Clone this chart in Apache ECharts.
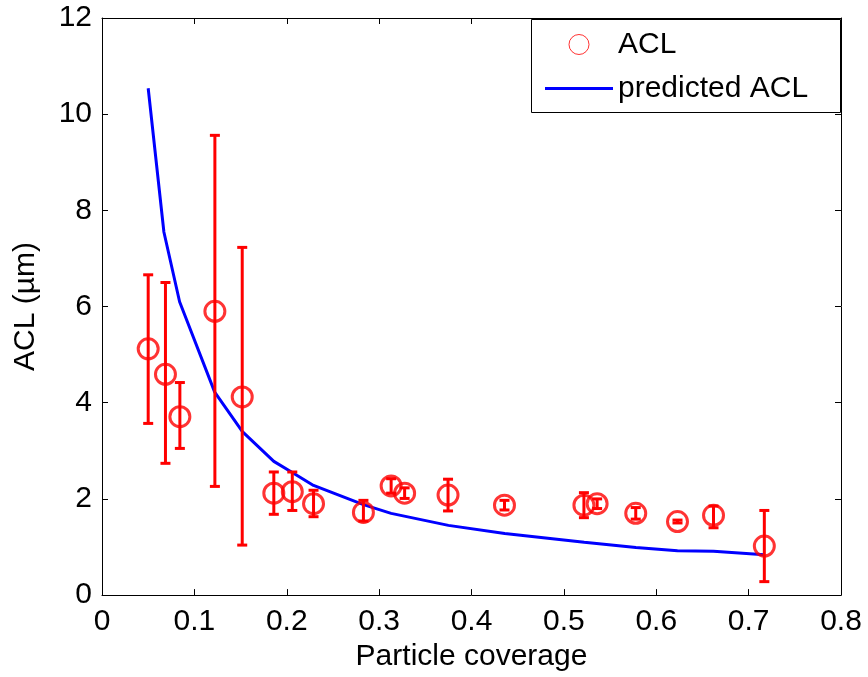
<!DOCTYPE html>
<html><head><meta charset="utf-8">
<script src="https://cdn.jsdelivr.net/npm/echarts@6/dist/echarts.min.js"></script>
<style>html,body{margin:0;padding:0;background:#fff}#c{width:868px;height:677px}</style>
</head><body><div id="c"></div>
<script>
// measured data
const coverage = [0.050, 0.0687, 0.0843, 0.1222, 0.1518, 0.186, 0.206, 0.229, 0.283, 0.313, 0.3276, 0.3746, 0.4357, 0.5217, 0.536, 0.5778, 0.623, 0.662, 0.717];
const acl      = [5.12, 4.59, 3.71, 5.90, 4.12, 2.12, 2.15, 1.90, 1.72, 2.27, 2.12, 2.08, 1.87, 1.87, 1.90, 1.70, 1.53, 1.66, 1.02];
const aclLow   = [3.57, 2.74, 3.05, 2.26, 1.04, 1.68, 1.76, 1.63, 1.54, 2.12, 2.01, 1.75, 1.77, 1.61, 1.80, 1.58, 1.50, 1.40, 0.28];
const aclHigh  = [6.66, 6.50, 4.42, 9.56, 7.23, 2.56, 2.56, 2.18, 1.97, 2.42, 2.23, 2.41, 1.97, 2.13, 2.00, 1.82, 1.56, 1.85, 1.76];
const predX    = [0.050, 0.067, 0.084, 0.122, 0.152, 0.186, 0.206, 0.229, 0.283, 0.313, 0.375, 0.436, 0.522, 0.578, 0.623, 0.662, 0.717];
const predY    = [10.54, 7.55, 6.10, 4.22, 3.40, 2.78, 2.55, 2.28, 1.88, 1.70, 1.45, 1.28, 1.10, 0.99, 0.92, 0.91, 0.84];
const xTicks = [0, 0.1, 0.2, 0.3, 0.4, 0.5, 0.6, 0.7, 0.8];
const yTicks = [0, 2, 4, 6, 8, 10, 12];

const FONT = 'Liberation Sans, Arial, sans-serif';
const FS = 30;
const chart = echarts.init(document.getElementById('c'));
const scatterData = coverage.map((x, i) => [x, acl[i]]);
const errData = coverage.map((x, i) => [x, aclLow[i], aclHigh[i]]);
const lineData = predX.map((x, i) => [x, predY[i]]);

const axisCommon = {
  axisLine: {show: true, onZero: false, lineStyle: {color: '#000', width: 1}},
  axisTick: {show: true, inside: true, length: 6, lineStyle: {color: '#000'}},
  splitLine: {show: false}
};
const fmt = ticks => v => { const t = ticks.find(k => Math.abs(k - v) < 1e-9); return t === undefined ? '' : String(t); };

chart.setOption({
  animation: false,
  backgroundColor: '#fff',
  grid: {left: 102, right: 27, top: 18, bottom: 81, containLabel: false},
  graphic: [{
    type: 'rect', z: 10, silent: true,
    shape: {x: 531.5, y: 19.5, width: 309, height: 93},
    style: {fill: '#fff', stroke: '#000', lineWidth: 1}
  }],
  legend: {
    left: 545, top: 29, z: 20,
    orient: 'vertical',
    padding: 0,
    itemGap: 13,
    itemWidth: 68, itemHeight: 20,
    textStyle: {fontFamily: FONT, fontSize: FS, color: '#000', lineHeight: 31},
    data: [
      {name: 'ACL', icon: 'circle', itemStyle: {color: 'rgba(0,0,0,0)', borderColor: '#f00', borderWidth: 1}},
      {name: 'predicted ACL', icon: 'path://M0,0 L68,0 L68,3 L0,3 Z', itemStyle: {color: '#00f', borderWidth: 0}}
    ]
  },
  xAxis: [
    Object.assign({}, axisCommon, {
      type: 'value', min: 0, max: 0.8, interval: 0.1,
      name: 'Particle coverage', nameLocation: 'middle', nameGap: 37,
      nameTextStyle: {fontFamily: FONT, fontSize: FS, color: '#000'},
      axisLabel: {fontFamily: FONT, fontSize: FS, color: '#000', margin: 12, formatter: fmt(xTicks)}
    }),
    Object.assign({}, axisCommon, {
      type: 'value', min: 0, max: 0.8, interval: 0.1, position: 'top',
      axisLabel: {show: false}
    })
  ],
  yAxis: [
    Object.assign({}, axisCommon, {
      type: 'value', min: 0, max: 12, interval: 2,
      name: 'ACL (µm)', nameLocation: 'middle', nameGap: 61, nameRotate: 90,
      nameTextStyle: {fontFamily: FONT, fontSize: FS, color: '#000'},
      axisLabel: {fontFamily: FONT, fontSize: FS, color: '#000', margin: 10, formatter: fmt(yTicks)}
    }),
    Object.assign({}, axisCommon, {
      type: 'value', min: 0, max: 12, interval: 2, position: 'right',
      axisLabel: {show: false}
    })
  ],
  series: [
    {
      name: 'predicted ACL', type: 'line', data: lineData,
      symbol: 'none', lineStyle: {color: '#00f', width: 3}, itemStyle: {color: '#00f'}, z: 3
    },
    {
      name: 'errorbars', type: 'custom', data: errData, z: 4,
      renderItem: function (params, api) {
        const x = api.value(0);
        const lo = api.coord([x, api.value(1)]);
        const hi = api.coord([x, api.value(2)]);
        const w = 5;
        const st = {stroke: '#f00', lineWidth: 3};
        return {type: 'group', children: [
          {type: 'line', shape: {x1: lo[0], y1: lo[1], x2: hi[0], y2: hi[1]}, style: st},
          {type: 'line', shape: {x1: lo[0] - w, y1: lo[1], x2: lo[0] + w, y2: lo[1]}, style: st},
          {type: 'line', shape: {x1: hi[0] - w, y1: hi[1], x2: hi[0] + w, y2: hi[1]}, style: st}
        ]};
      }
    },
    {
      name: 'ACL', type: 'scatter', data: scatterData, z: 5,
      symbol: 'circle', symbolSize: 20,
      itemStyle: {color: 'rgba(0,0,0,0)', borderColor: '#f00', borderWidth: 3}
    }
  ]
});
</script></body></html>
